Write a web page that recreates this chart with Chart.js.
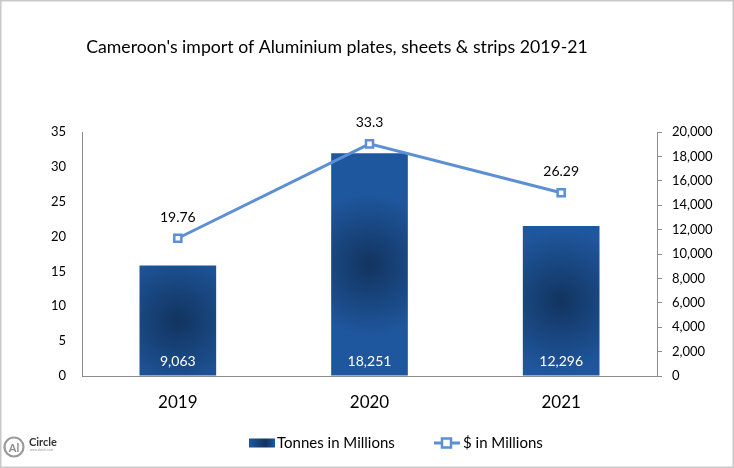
<!DOCTYPE html>
<html>
<head>
<meta charset="utf-8">
<script src="https://cdn.jsdelivr.net/npm/chart.js@4"></script>
<style>
  html, body { margin: 0; padding: 0; background: #fff; }
  #wrap { width: 734px; height: 468px; }
</style>
</head>
<body>
<div id="wrap"><canvas id="chartImport"></canvas></div>
<script>
const years = ["2019", "2020", "2021"];
const tonnes = [9063, 18251, 12296];
const dollars = [19.76, 33.3, 26.29];
const leftTicks = [0, 5, 10, 15, 20, 25, 30, 35];
const rightTicks = [0, 2000, 4000, 6000, 8000, 10000, 12000, 14000, 16000, 18000, 20000];
const titleText = "Cameroon's import of Aluminium plates, sheets & strips 2019-21";

const FONT = "Lato, 'Open Sans', sans-serif";
const lineBlue = "#5b8fd6";
const barEdge = "#1f579e";
const barCore = "#12345f";

function fmt(v) {
  return v.toLocaleString("en-US");
}

function barFill(ctx) {
  const chart = ctx.chart;
  const xs = chart.scales.x, ys = chart.scales.y1;
  if (!xs || !ys || ctx.dataIndex === undefined) return barEdge;
  const v = tonnes[ctx.dataIndex];
  const cx = xs.getPixelForValue(ctx.dataIndex);
  const top = ys.getPixelForValue(v);
  const bot = ys.getPixelForValue(0);
  const cy = (top + bot) / 2;
  if (!isFinite(cx) || !isFinite(cy)) return barEdge;
  const g = chart.ctx.createRadialGradient(cx, cy, 0, cx, cy, 72);
  g.addColorStop(0, barCore);
  g.addColorStop(1, barEdge);
  return g;
}

// title, value labels, legend, logo and frame
const decor = {
  id: "decor",
  afterDatasetsDraw(chart) {
    const c = chart.ctx;
    c.save();
    c.textAlign = "center";
    c.textBaseline = "middle";
    c.font = "14px " + FONT;
    const barMeta = chart.getDatasetMeta(0);
    barMeta.data.forEach((el, i) => {
      c.fillStyle = "#ffffff";
      c.fillText(fmt(tonnes[i]), el.x, chart.scales.y1.getPixelForValue(0) - 15);
    });
    const lineMeta = chart.getDatasetMeta(1);
    lineMeta.data.forEach((el, i) => {
      c.fillStyle = "#000000";
      c.fillText(String(dollars[i]), el.x, el.y - 21);
    });
    c.restore();
  },
  afterDraw(chart) {
    const c = chart.ctx;
    c.save();
    // title
    c.fillStyle = "#000";
    c.font = "17.7px " + FONT;
    c.textAlign = "center";
    c.textBaseline = "middle";
    c.fillText(titleText, 337, 47);

    // legend
    const ly = 443;
    c.font = "15px " + FONT;
    c.textAlign = "left";
    let g = c.createLinearGradient(249, 0, 275, 0);
    g.addColorStop(0, barEdge);
    g.addColorStop(0.65, barCore);
    g.addColorStop(1, barEdge);
    c.fillStyle = g;
    c.fillRect(249, ly - 4.5, 26, 9);
    c.fillStyle = "#000";
    c.fillText(chart.data.datasets[0].label, 277, ly);
    c.strokeStyle = lineBlue;
    c.lineWidth = 3;
    c.beginPath();
    c.moveTo(434, ly);
    c.lineTo(460, ly);
    c.stroke();
    c.fillStyle = "#fff";
    c.lineWidth = 2.5;
    c.fillRect(442, ly - 4.5, 9, 9);
    c.strokeRect(442, ly - 4.5, 9, 9);
    c.fillStyle = "#000";
    c.fillText(chart.data.datasets[1].label, 463, ly);

    // logo
    c.strokeStyle = "#9a9a9a";
    c.lineWidth = 2.2;
    c.beginPath();
    c.arc(14, 447, 9.5, 0, Math.PI * 2);
    c.stroke();
    c.fillStyle = "#8a8a8a";
    c.font = "bold 11px " + FONT;
    c.textAlign = "center";
    c.fillText("Al", 14, 448);
    c.fillStyle = "#333";
    c.font = "bold 11px 'Liberation Sans Narrow', " + FONT;
    c.textAlign = "left";
    c.fillText("Circle", 29, 442);
    c.fillStyle = "#999";
    c.font = "3px " + FONT;
    c.fillText("www.alcircle.com", 30, 450);

    // frame
    c.strokeStyle = "#c8c8c8";
    c.lineWidth = 1.5;
    c.strokeRect(0.75, 0.75, chart.width - 1.5, chart.height - 1.5);
    c.restore();
  }
};

new Chart(document.getElementById("chartImport"), {
  data: {
    labels: years,
    datasets: [
      {
        type: "bar",
        label: "Tonnes in Millions",
        data: tonnes,
        yAxisID: "y1",
        backgroundColor: barFill,
        barPercentage: 0.8,
        categoryPercentage: 0.5,
        order: 2
      },
      {
        type: "line",
        label: "$ in Millions",
        data: dollars,
        yAxisID: "y",
        borderColor: lineBlue,
        borderWidth: 3,
        pointStyle: "rect",
        pointRadius: 5,
        pointBorderWidth: 2.5,
        pointBackgroundColor: "#ffffff",
        pointBorderColor: lineBlue,
        tension: 0,
        order: 1
      }
    ]
  },
  options: {
    responsive: true,
    maintainAspectRatio: false,
    animation: false,
    devicePixelRatio: 1,
    layout: { padding: { top: 132, bottom: 52, left: 0, right: 0 } },
    plugins: {
      legend: { display: false },
      title: { display: false },
      tooltip: { enabled: false }
    },
    scales: {
      x: {
        grid: { display: false },
        border: { color: "#8c8c8c", width: 1 },
        ticks: { color: "#000", font: { family: FONT, size: 17 }, padding: 8 },
        afterFit(s) { s.height = 40; }
      },
      y: {
        position: "left",
        min: 0,
        max: 35,
        afterBuildTicks(s) { s.ticks = leftTicks.map(v => ({ value: v })); },
        grid: { display: false, drawTicks: false },
        border: { color: "#8c8c8c", width: 1 },
        ticks: { color: "#000", font: { family: FONT, size: 13 }, padding: 16 },
        afterFit(s) { s.width = 82; }
      },
      y1: {
        position: "right",
        min: 0,
        max: 20000,
        afterBuildTicks(s) { s.ticks = rightTicks.map(v => ({ value: v })); },
        grid: { drawOnChartArea: false, drawTicks: true, tickLength: 5, color: "#8c8c8c" },
        border: { color: "#8c8c8c", width: 1 },
        ticks: { color: "#000", font: { family: FONT, size: 13 }, padding: 10, callback: v => fmt(v) },
        afterFit(s) { s.width = 77; }
      }
    }
  },
  plugins: [decor]
});
</script>
</body>
</html>
